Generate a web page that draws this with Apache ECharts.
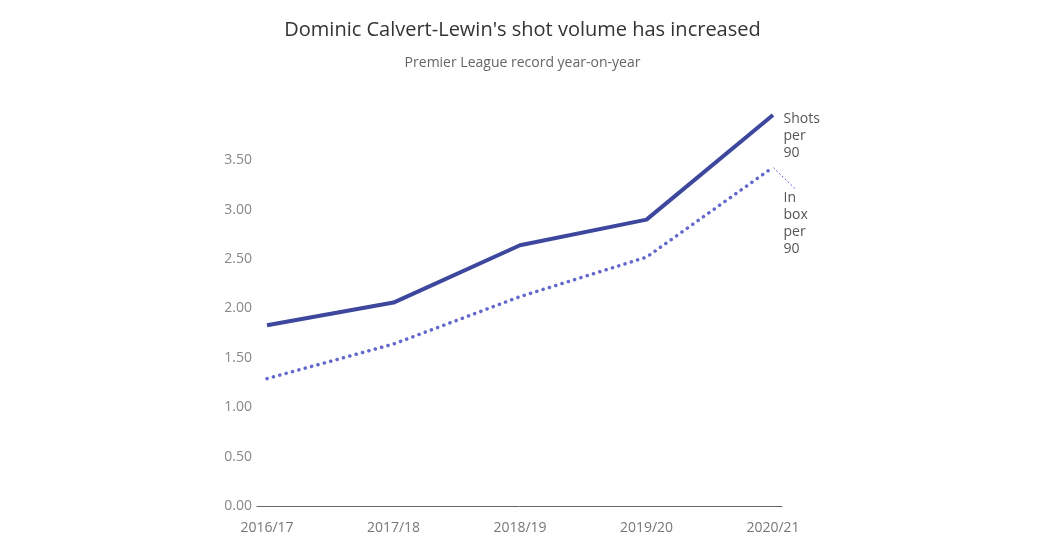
<!DOCTYPE html>
<html>
<head>
<meta charset="utf-8">
<script src="https://cdn.jsdelivr.net/npm/echarts@6/dist/echarts.min.js"></script>
<style>
  html, body { margin: 0; padding: 0; background: #fff; }
  #chart { width: 1045px; height: 554px; }
</style>
</head>
<body>
<div id="chart"></div>
<script>
// Temporadas y datos por 90 minutos
const seasons = ["2016/17", "2017/18", "2018/19", "2019/20", "2020/21"];
const shotsPer90 = [1.83, 2.06, 2.64, 2.9, 3.96];
const inBoxPer90 = [1.29, 1.64, 2.12, 2.52, 3.43];
const yTicks = [0, 0.5, 1, 1.5, 2, 2.5, 3, 3.5];

const fontFamily = "'Open Sans', 'Noto Sans', sans-serif";

// solo mostrar etiqueta en el ultimo punto
function lastLabel(values, text) {
  return values.map((v, i) =>
    i === values.length - 1
      ? {
          value: v,
          label: {
            show: true,
            position: "right",
            formatter: text,
            align: "left",
            verticalAlign: "top",
            distance: 10,
            color: "#555",
            fontSize: 14,
            lineHeight: 17,
            fontFamily: fontFamily,
          },
        }
      : v
  );
}

const chart = echarts.init(document.getElementById("chart"));
const option = {
  animation: false,
  title: [
    {
      text: "Dominic Calvert-Lewin's shot volume has increased",
      left: "center",
      top: 15,
      textStyle: { fontSize: 20, fontWeight: "normal", color: "#333", fontFamily: fontFamily },
    },
    {
      text: "Premier League record year-on-year",
      left: "center",
      top: 51,
      textStyle: { fontSize: 14, fontWeight: "normal", color: "#666", fontFamily: fontFamily },
    },
  ],
  grid: [
    { left: 267, right: 272, top: 111, bottom: 48 },
    { left: 257, right: 263, top: 111, bottom: 48 },
  ],
  xAxis: [
    {
      type: "category",
      gridIndex: 0,
      data: seasons,
      boundaryGap: false,
      axisLine: { show: false },
      axisTick: { show: false },
      axisLabel: { color: "#777", fontSize: 14, margin: 15, fontFamily: fontFamily },
    },
    {
      type: "value",
      gridIndex: 1,
      min: 0,
      max: 1,
      axisLine: { show: true, lineStyle: { color: "#666", width: 1 } },
      axisTick: { show: false },
      axisLabel: { show: false },
      splitLine: { show: false },
    },
  ],
  yAxis: [
    {
      type: "value",
      gridIndex: 0,
      min: 0,
      max: 4,
      interval: 0.5,
      splitLine: { show: false },
      axisLine: { show: false },
      axisTick: { show: false },
      axisLabel: {
        color: "#888",
        fontSize: 14,
        margin: 15,
        fontFamily: fontFamily,
        formatter: (v) => (yTicks.includes(v) ? v.toFixed(2) : ""),
      },
    },
    { type: "value", gridIndex: 1, show: false },
  ],
  series: [
    {
      name: "Shots per 90",
      type: "line",
      xAxisIndex: 0,
      yAxisIndex: 0,
      data: lastLabel(shotsPer90, "Shots\nper\n90"),
      labelLayout: { dy: -4 },
      symbol: "circle",
      symbolSize: 1,
      showSymbol: true,
      itemStyle: { color: "rgba(0,0,0,0)" },
      lineStyle: { color: "#3c479d", width: 4 },
      silent: true,
    },
    {
      name: "In box per 90",
      type: "line",
      xAxisIndex: 0,
      yAxisIndex: 0,
      data: lastLabel(inBoxPer90, "In\nbox\nper\n90"),
      labelLayout: { dy: 22 },
      symbol: "circle",
      symbolSize: 1,
      showSymbol: true,
      itemStyle: { color: "rgba(0,0,0,0)" },
      lineStyle: { color: "#6268cc", width: 3.5, type: [0.1, 6.5], cap: "round" },
      labelLine: { show: true, length2: 0, lineStyle: { color: "#6268cc", width: 1, type: [2, 2] } },
      silent: true,
    },
  ],
};
chart.setOption(option);
</script>
</body>
</html>
